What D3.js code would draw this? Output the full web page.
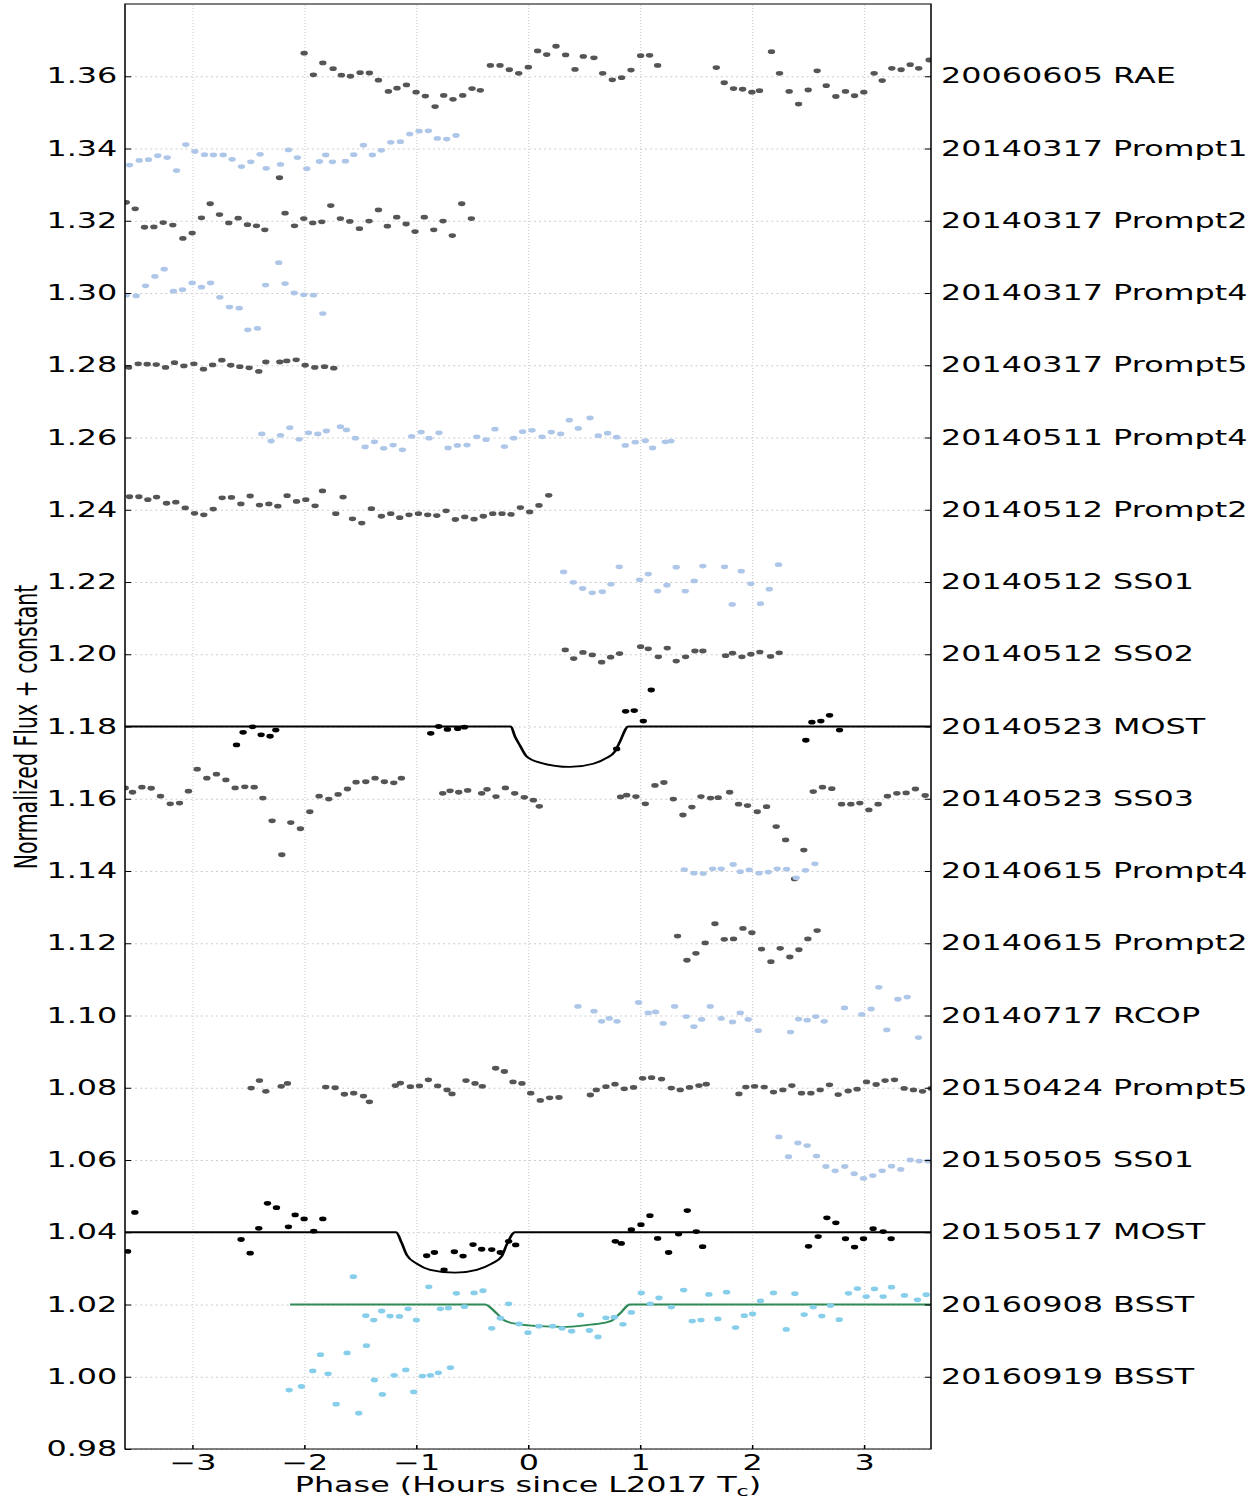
<!DOCTYPE html>
<html>
<head>
<meta charset="utf-8">
<script src="https://cdn.jsdelivr.net/npm/d3@7"></script>
<style>
  body { margin: 0; background: #fff; }
  text { font-family: "DejaVu Sans", sans-serif; }
</style>
</head>
<body>
<svg id="chart"></svg>
<script>
// the source figure was stretched sideways, so everything is drawn in a narrow frame and scaled
const STRETCH = 1.53;
const width = 1257, height = 1500;

// ---- data: [phase (h), normalized flux + constant] ----
const rae_0605 = [[-2.000,1.3664],[-1.917,1.3604],[-1.833,1.3637],[-1.741,1.3621],[-1.667,1.3603],[-1.586,1.3600],[-1.500,1.3610],[-1.417,1.3609],[-1.336,1.3589],[-1.247,1.3558],[-1.170,1.3567],[-1.086,1.3576],[-1.000,1.3556],[-0.917,1.3545],[-0.830,1.3516],[-0.753,1.3547],[-0.670,1.3536],[-0.583,1.3547],[-0.500,1.3566],[-0.426,1.3561],[-0.336,1.3630],[-0.250,1.3630],[-0.167,1.3618],[-0.083,1.3608],[0.003,1.3625],[0.086,1.3670],[0.167,1.3660],[0.250,1.3683],[0.336,1.3659],[0.420,1.3619],[0.494,1.3655],[0.589,1.3651],[0.667,1.3608],[0.753,1.3590],[0.836,1.3596],[0.920,1.3617],[1.006,1.3657],[1.086,1.3658],[1.158,1.3630],[1.682,1.3624],[1.753,1.3582],[1.836,1.3566],[1.917,1.3564],[2.000,1.3556],[2.068,1.3560],[2.175,1.3668],[2.247,1.3608],[2.333,1.3558],[2.417,1.3523],[2.503,1.3562],[2.583,1.3615],[2.664,1.3574],[2.750,1.3544],[2.836,1.3558],[2.917,1.3546],[3.000,1.3556],[3.092,1.3608],[3.164,1.3588],[3.250,1.3622],[3.333,1.3618],[3.414,1.3632],[3.490,1.3622],[3.583,1.3645]];
const prompt1_0317 = [[-3.560,1.3354],[-3.473,1.3367],[-3.390,1.3369],[-3.307,1.3380],[-3.223,1.3375],[-3.140,1.3339],[-3.057,1.3411],[-2.976,1.3392],[-2.890,1.3383],[-2.810,1.3382],[-2.723,1.3382],[-2.643,1.3370],[-2.560,1.3350],[-2.476,1.3363],[-2.393,1.3384],[-2.339,1.3345],[-2.211,1.3356],[-2.140,1.3396],[-2.060,1.3375],[-1.976,1.3344],[-1.863,1.3364],[-1.807,1.3382],[-1.747,1.3363],[-1.631,1.3365],[-1.557,1.3383],[-1.470,1.3409],[-1.390,1.3382],[-1.310,1.3395],[-1.226,1.3417],[-1.140,1.3419],[-1.057,1.3440],[-0.973,1.3448],[-0.890,1.3449],[-0.810,1.3428],[-0.726,1.3426],[-0.643,1.3436]];
const prompt2_0317 = [[-3.589,1.3251],[-3.509,1.3233],[-3.426,1.3182],[-3.342,1.3183],[-3.259,1.3195],[-3.173,1.3188],[-3.083,1.3151],[-3.000,1.3166],[-2.917,1.3208],[-2.839,1.3247],[-2.756,1.3217],[-2.673,1.3194],[-2.589,1.3207],[-2.506,1.3189],[-2.426,1.3186],[-2.351,1.3175],[-2.220,1.3319],[-2.170,1.3221],[-2.086,1.3186],[-2.003,1.3206],[-1.923,1.3194],[-1.842,1.3197],[-1.762,1.3242],[-1.676,1.3206],[-1.592,1.3198],[-1.506,1.3178],[-1.420,1.3199],[-1.336,1.3230],[-1.256,1.3185],[-1.173,1.3210],[-1.089,1.3191],[-1.009,1.3170],[-0.926,1.3210],[-0.842,1.3175],[-0.759,1.3199],[-0.676,1.3159],[-0.592,1.3247],[-0.506,1.3206]];
const prompt4_0317 = [[-3.589,1.2994],[-3.500,1.2992],[-3.417,1.3020],[-3.333,1.3046],[-3.250,1.3066],[-3.167,1.3005],[-3.086,1.3009],[-3.000,1.3028],[-2.917,1.3016],[-2.836,1.3028],[-2.753,1.2988],[-2.667,1.2961],[-2.580,1.2958],[-2.503,1.2898],[-2.417,1.2902],[-2.345,1.3022],[-2.226,1.3084],[-2.170,1.3026],[-2.089,1.3000],[-2.003,1.2995],[-1.917,1.2994],[-1.833,1.2943]];
const prompt5_0317 = [[-3.568,1.2794],[-3.482,1.2804],[-3.402,1.2803],[-3.321,1.2802],[-3.238,1.2794],[-3.158,1.2807],[-3.074,1.2798],[-2.985,1.2804],[-2.899,1.2789],[-2.818,1.2801],[-2.735,1.2814],[-2.655,1.2800],[-2.574,1.2796],[-2.491,1.2793],[-2.405,1.2783],[-2.342,1.2809],[-2.217,1.2809],[-2.155,1.2812],[-2.071,1.2815],[-1.991,1.2800],[-1.905,1.2794],[-1.818,1.2796],[-1.735,1.2792]];
const prompt4_0511 = [[-2.378,1.2610],[-2.295,1.2590],[-2.211,1.2606],[-2.128,1.2627],[-2.045,1.2595],[-1.961,1.2613],[-1.878,1.2610],[-1.801,1.2618],[-1.676,1.2630],[-1.622,1.2621],[-1.542,1.2598],[-1.455,1.2574],[-1.372,1.2588],[-1.289,1.2570],[-1.205,1.2579],[-1.122,1.2566],[-1.039,1.2603],[-0.955,1.2615],[-0.884,1.2598],[-0.795,1.2613],[-0.714,1.2571],[-0.631,1.2578],[-0.545,1.2579],[-0.458,1.2602],[-0.375,1.2594],[-0.295,1.2623],[-0.211,1.2575],[-0.128,1.2598],[-0.048,1.2616],[0.036,1.2620],[0.125,1.2602],[0.208,1.2615],[0.292,1.2610],[0.369,1.2648],[0.449,1.2625],[0.554,1.2654],[0.628,1.2605],[0.711,1.2612],[0.792,1.2601],[0.869,1.2578],[0.958,1.2587],[1.048,1.2591],[1.113,1.2571],[1.226,1.2588],[1.277,1.2590]];
const prompt2_0512 = [[-3.560,1.2436],[-3.476,1.2436],[-3.396,1.2428],[-3.318,1.2435],[-3.229,1.2418],[-3.146,1.2421],[-3.062,1.2405],[-2.979,1.2390],[-2.896,1.2386],[-2.812,1.2402],[-2.732,1.2433],[-2.649,1.2434],[-2.565,1.2416],[-2.482,1.2438],[-2.399,1.2413],[-2.315,1.2416],[-2.235,1.2410],[-2.152,1.2439],[-2.068,1.2423],[-1.985,1.2428],[-1.902,1.2411],[-1.836,1.2452],[-1.717,1.2389],[-1.652,1.2435],[-1.568,1.2375],[-1.485,1.2363],[-1.399,1.2403],[-1.310,1.2382],[-1.226,1.2389],[-1.146,1.2378],[-1.063,1.2386],[-0.979,1.2389],[-0.896,1.2386],[-0.815,1.2384],[-0.732,1.2397],[-0.649,1.2373],[-0.565,1.2380],[-0.482,1.2374],[-0.399,1.2382],[-0.315,1.2389],[-0.232,1.2389],[-0.152,1.2387],[-0.068,1.2406],[0.015,1.2394],[0.098,1.2412],[0.185,1.2440]];
const ss01_0512 = [[0.318,1.2228],[0.405,1.2199],[0.488,1.2182],[0.574,1.2170],[0.664,1.2173],[0.741,1.2194],[0.815,1.2242],[0.997,1.2206],[1.074,1.2222],[1.158,1.2175],[1.241,1.2191],[1.324,1.2241],[1.405,1.2175],[1.485,1.2203],[1.562,1.2244],[1.756,1.2242],[1.824,1.2138],[1.905,1.2230],[1.991,1.2195],[2.077,1.2140],[2.155,1.2180],[2.238,1.2248]];
const ss02_0512 = [[0.333,1.2012],[0.408,1.1988],[0.491,1.2005],[0.574,1.1998],[0.658,1.1978],[0.738,1.1992],[0.818,1.2002],[1.006,1.2021],[1.074,1.2015],[1.164,1.1993],[1.244,1.2017],[1.324,1.1981],[1.408,1.1993],[1.491,1.2009],[1.562,1.2009],[1.765,1.1996],[1.827,1.2003],[1.911,1.1993],[1.991,1.2000],[2.071,1.2006],[2.167,1.1994],[2.244,1.2004]];
const most_0523 = [[-2.604,1.1749],[-2.545,1.1784],[-2.461,1.1799],[-2.384,1.1777],[-2.304,1.1773],[-2.253,1.1790],[-0.869,1.1781],[-0.798,1.1800],[-0.720,1.1792],[-0.628,1.1794],[-0.568,1.1798],[0.792,1.1738],[0.872,1.1842],[0.949,1.1844],[1.030,1.1815],[1.101,1.1901],[2.482,1.1762],[2.536,1.1812],[2.616,1.1815],[2.694,1.1831],[2.783,1.1790]];
const ss03_0523 = [[-3.598,1.1630],[-3.533,1.1618],[-3.449,1.1632],[-3.366,1.1629],[-3.283,1.1607],[-3.196,1.1586],[-3.113,1.1588],[-3.033,1.1621],[-2.955,1.1682],[-2.869,1.1657],[-2.783,1.1668],[-2.699,1.1652],[-2.616,1.1630],[-2.530,1.1633],[-2.446,1.1632],[-2.369,1.1602],[-2.286,1.1539],[-2.199,1.1445],[-2.119,1.1534],[-2.033,1.1517],[-1.949,1.1564],[-1.866,1.1607],[-1.780,1.1599],[-1.696,1.1612],[-1.613,1.1627],[-1.536,1.1646],[-1.449,1.1647],[-1.366,1.1657],[-1.283,1.1647],[-1.199,1.1644],[-1.131,1.1657],[-0.762,1.1615],[-0.696,1.1622],[-0.619,1.1618],[-0.539,1.1623],[-0.414,1.1615],[-0.366,1.1626],[-0.286,1.1606],[-0.202,1.1630],[-0.119,1.1615],[-0.033,1.1604],[0.048,1.1596],[0.101,1.1579],[0.827,1.1605],[0.881,1.1610],[0.964,1.1606],[1.048,1.1586],[1.134,1.1637],[1.214,1.1645],[1.298,1.1599],[1.384,1.1555],[1.464,1.1577],[1.545,1.1606],[1.631,1.1602],[1.699,1.1603],[1.801,1.1618],[1.881,1.1585],[1.961,1.1581],[2.048,1.1564],[2.131,1.1578],[2.217,1.1523],[2.301,1.1486],[2.381,1.1378],[2.464,1.1458],[2.548,1.1620],[2.631,1.1632],[2.714,1.1628],[2.801,1.1585],[2.884,1.1585],[2.964,1.1588],[3.045,1.1569],[3.128,1.1585],[3.211,1.1607],[3.295,1.1615],[3.378,1.1616],[3.461,1.1627],[3.548,1.1609]];
const prompt4_0615 = [[1.396,1.1404],[1.482,1.1394],[1.565,1.1393],[1.649,1.1406],[1.726,1.1406],[1.833,1.1418],[1.896,1.1398],[1.976,1.1403],[2.063,1.1394],[2.146,1.1397],[2.226,1.1406],[2.310,1.1405],[2.396,1.1381],[2.479,1.1402],[2.563,1.1420]];
const prompt2_0615 = [[1.336,1.1220],[1.420,1.1153],[1.500,1.1172],[1.583,1.1201],[1.670,1.1254],[1.753,1.1211],[1.836,1.1212],[1.920,1.1241],[2.000,1.1229],[2.086,1.1184],[2.170,1.1149],[2.253,1.1186],[2.339,1.1162],[2.420,1.1182],[2.500,1.1212],[2.583,1.1235]];
const rcop_0717 = [[0.446,1.1025],[0.589,1.1012],[0.658,1.0984],[0.726,1.0992],[0.795,1.0984],[0.988,1.1036],[1.074,1.1007],[1.140,1.1010],[1.208,1.0978],[1.310,1.1025],[1.414,1.0997],[1.482,1.0969],[1.551,1.0989],[1.628,1.1025],[1.726,1.0992],[1.827,1.0982],[1.896,1.1007],[1.967,1.0989],[2.057,1.0958],[2.345,1.0954],[2.417,1.0990],[2.494,1.0987],[2.571,1.0997],[2.646,1.0984],[2.827,1.1021],[2.982,1.1003],[3.065,1.1018],[3.134,1.1078],[3.205,1.0960],[3.304,1.1045],[3.387,1.1051],[3.488,1.0939]];
const prompt5_0424 = [[-2.473,1.0799],[-2.399,1.0820],[-2.342,1.0790],[-2.205,1.0804],[-2.149,1.0812],[-1.807,1.0802],[-1.723,1.0800],[-1.640,1.0782],[-1.557,1.0785],[-1.470,1.0777],[-1.417,1.0761],[-1.185,1.0806],[-1.140,1.0813],[-1.051,1.0803],[-0.970,1.0805],[-0.890,1.0822],[-0.807,1.0805],[-0.723,1.0794],[-0.679,1.0783],[-0.554,1.0820],[-0.473,1.0812],[-0.408,1.0804],[-0.289,1.0854],[-0.211,1.0845],[-0.134,1.0816],[-0.054,1.0812],[0.024,1.0785],[0.110,1.0765],[0.193,1.0772],[0.277,1.0773],[0.557,1.0780],[0.610,1.0794],[0.696,1.0803],[0.777,1.0810],[0.860,1.0797],[0.943,1.0801],[1.024,1.0826],[1.104,1.0828],[1.193,1.0824],[1.280,1.0799],[1.360,1.0794],[1.443,1.0801],[1.527,1.0806],[1.592,1.0810],[1.884,1.0783],[1.946,1.0802],[2.024,1.0804],[2.110,1.0802],[2.193,1.0788],[2.277,1.0794],[2.357,1.0806],[2.443,1.0785],[2.527,1.0785],[2.610,1.0794],[2.693,1.0808],[2.771,1.0781],[2.860,1.0791],[2.940,1.0796],[3.024,1.0816],[3.110,1.0809],[3.190,1.0820],[3.274,1.0822],[3.360,1.0798],[3.443,1.0794],[3.524,1.0790],[3.601,1.0798]];
const ss01_0505 = [[2.241,1.0664],[2.327,1.0609],[2.411,1.0647],[2.494,1.0640],[2.577,1.0611],[2.661,1.0582],[2.744,1.0570],[2.830,1.0582],[2.914,1.0562],[2.997,1.0549],[3.080,1.0557],[3.164,1.0570],[3.247,1.0583],[3.330,1.0574],[3.414,1.0600],[3.494,1.0597],[3.571,1.0597]];
const most_0517 = [[-3.577,1.0347],[-3.512,1.0455],[-2.563,1.0380],[-2.482,1.0342],[-2.405,1.0411],[-2.327,1.0480],[-2.247,1.0468],[-2.140,1.0415],[-2.080,1.0448],[-2.000,1.0437],[-1.914,1.0403],[-1.833,1.0437],[-0.905,1.0335],[-0.836,1.0344],[-0.750,1.0296],[-0.658,1.0346],[-0.580,1.0334],[-0.491,1.0366],[-0.414,1.0353],[-0.324,1.0352],[-0.247,1.0344],[-0.173,1.0375],[-0.110,1.0365],[0.780,1.0375],[0.833,1.0369],[0.923,1.0407],[1.009,1.0421],[1.089,1.0446],[1.158,1.0383],[1.256,1.0344],[1.345,1.0395],[1.423,1.0460],[1.503,1.0402],[1.560,1.0360],[2.506,1.0361],[2.592,1.0388],[2.670,1.0440],[2.750,1.0426],[2.836,1.0382],[2.917,1.0359],[2.997,1.0382],[3.083,1.0410],[3.173,1.0402],[3.244,1.0382]];
const bsst_0908 = [[-1.560,1.0277],[-1.449,1.0169],[-1.378,1.0157],[-1.307,1.0182],[-1.232,1.0168],[-1.149,1.0167],[-1.071,1.0188],[-0.997,1.0157],[-0.887,1.0249],[-0.783,1.0188],[-0.711,1.0190],[-0.640,1.0231],[-0.568,1.0194],[-0.482,1.0232],[-0.402,1.0238],[-0.324,1.0134],[-0.247,1.0162],[-0.173,1.0202],[-0.080,1.0146],[0.000,1.0122],[0.098,1.0140],[0.220,1.0140],[0.304,1.0134],[0.390,1.0126],[0.470,1.0171],[0.548,1.0128],[0.625,1.0110],[0.696,1.0163],[0.771,1.0165],[0.848,1.0145],[0.923,1.0178],[1.012,1.0232],[1.092,1.0202],[1.170,1.0218],[1.280,1.0193],[1.390,1.0240],[1.467,1.0154],[1.545,1.0157],[1.616,1.0228],[1.696,1.0160],[1.774,1.0234],[1.854,1.0136],[1.932,1.0169],[2.006,1.0174],[2.077,1.0210],[2.193,1.0232],[2.307,1.0131],[2.384,1.0230],[2.467,1.0172],[2.548,1.0193],[2.625,1.0168],[2.702,1.0197],[2.780,1.0158],[2.863,1.0231],[2.943,1.0244],[3.021,1.0222],[3.095,1.0243],[3.173,1.0222],[3.247,1.0248],[3.363,1.0225],[3.479,1.0213],[3.557,1.0227]];
const bsst_0919 = [[-2.134,0.9963],[-2.024,0.9973],[-1.923,1.0016],[-1.854,1.0061],[-1.786,1.0008],[-1.714,0.9924],[-1.616,1.0066],[-1.512,0.9899],[-1.443,1.0086],[-1.372,0.9991],[-1.301,0.9951],[-1.196,1.0004],[-1.092,1.0019],[-1.021,0.9958],[-0.943,1.0002],[-0.872,1.0004],[-0.801,1.0011],[-0.693,1.0025]];

// model curves
const mostModel_0523 = [[-3.6,1.18],[-0.154,1.18],[-0.116,1.1772],[-0.071,1.1747],[-0.012,1.1717],[0.107,1.1700],[0.375,1.1688],[0.583,1.1697],[0.702,1.1713],[0.777,1.1731],[0.821,1.1758],[0.896,1.18],[3.6,1.18]];
const mostModel_0517 = [[-3.6,1.04],[-1.179,1.04],[-1.128,1.0370],[-1.083,1.0337],[-0.994,1.0313],[-0.875,1.0296],[-0.652,1.0288],[-0.458,1.0296],[-0.324,1.0313],[-0.235,1.0333],[-0.190,1.0366],[-0.116,1.04],[3.6,1.04]];
const bsstModel_0908 = [[-2.125,1.02],[-0.384,1.02],[-0.279,1.0175],[-0.205,1.0155],[-0.071,1.0145],[0.107,1.0140],[0.315,1.0138],[0.524,1.0143],[0.673,1.0149],[0.747,1.0155],[0.821,1.0175],[0.911,1.02],[3.6,1.02]];

const labelTicks = [1.36,1.34,1.32,1.30,1.28,1.26,1.24,1.22,1.20,1.18,1.16,1.14,1.12,1.10,1.08,1.06,1.04,1.02,1.00];
const labelNames = ["20060605 RAE","20140317 Prompt1","20140317 Prompt2","20140317 Prompt4","20140317 Prompt5",
  "20140511 Prompt4","20140512 Prompt2","20140512 SS01","20140512 SS02","20140523 MOST","20140523 SS03",
  "20140615 Prompt4","20140615 Prompt2","20140717 RCOP","20150424 Prompt5","20150505 SS01","20150517 MOST",
  "20160908 BSST","20160919 BSST"];
const xTicks = [-3,-2,-1,0,1,2,3];
const yTicks = d3.range(0, 20).map(i => +(0.98 + i * 0.02).toFixed(2));

// colours
const DARK = "#555555", LIGHT = "#aec7e8", SKY = "#87ceeb", BLACK = "#000000";

const seriesList = [
  { pts: rae_0605, color: DARK }, { pts: prompt1_0317, color: LIGHT }, { pts: prompt2_0317, color: DARK },
  { pts: prompt4_0317, color: LIGHT }, { pts: prompt5_0317, color: DARK }, { pts: prompt4_0511, color: LIGHT },
  { pts: prompt2_0512, color: DARK }, { pts: ss01_0512, color: LIGHT }, { pts: ss02_0512, color: DARK },
  { pts: most_0523, color: BLACK }, { pts: ss03_0523, color: DARK }, { pts: prompt4_0615, color: LIGHT },
  { pts: prompt2_0615, color: DARK }, { pts: rcop_0717, color: LIGHT }, { pts: prompt5_0424, color: DARK },
  { pts: ss01_0505, color: LIGHT }, { pts: most_0517, color: BLACK }, { pts: bsst_0908, color: SKY },
  { pts: bsst_0919, color: SKY }
];

// plot frame (in the un-stretched frame)
const plotLeft = 125 / STRETCH, plotRight = 931 / STRETCH, plotTop = 4, plotBottom = 1449;

let svg = d3.select("#chart").attr("width", width).attr("height", height);
let g = svg.append("g").attr("transform", "scale(" + STRETCH + ",1)");

let x = d3.scaleLinear().domain([-3.6, 3.6]).range([plotLeft, plotRight]);
let y = d3.scaleLinear().domain([0.98, 1.38]).range([plotBottom, plotTop]);

svg.append("defs").append("clipPath").attr("id", "plot-clip")
  .append("rect").attr("x", plotLeft).attr("y", plotTop)
  .attr("width", plotRight - plotLeft).attr("height", plotBottom - plotTop);

// grid
g.append("g").attr("transform", "translate(0," + plotBottom + ")")
  .call(d3.axisBottom(x).tickValues(xTicks).tickSize(-(plotBottom - plotTop)).tickFormat(""))
  .call(a => a.select(".domain").remove())
  .selectAll("line").attr("stroke", "#cccccc").attr("stroke-dasharray", "1,2").attr("stroke-width", 0.7);
g.append("g").attr("transform", "translate(" + plotLeft + ",0)")
  .call(d3.axisLeft(y).tickValues(yTicks).tickSize(-(plotRight - plotLeft)).tickFormat(""))
  .call(a => a.select(".domain").remove())
  .selectAll("line").attr("stroke", "#cccccc").attr("stroke-dasharray", "1.3,2").attr("stroke-width", 1);

let plot = g.append("g").attr("clip-path", "url(#plot-clip)");

// model lines
let line = d3.line().x(d => x(d[0])).y(d => y(d[1])).curve(d3.curveMonotoneX);
[[mostModel_0523, BLACK], [mostModel_0517, BLACK], [bsstModel_0908, "#2e8b57"]].forEach(m => {
  plot.append("path").datum(m[0]).attr("d", line)
    .attr("fill", "none").attr("stroke", m[1]).attr("stroke-width", 1.8);
});

// points
seriesList.forEach(s => {
  plot.append("g").selectAll("circle").data(s.pts).enter().append("circle")
    .attr("cx", d => x(d[0])).attr("cy", d => y(d[1])).attr("r", 2.4)
    .attr("fill", s.color);
});

// axes
const tickFont = 20.8;
let xAxis = g.append("g").attr("transform", "translate(0," + plotBottom + ")")
  .call(d3.axisBottom(x).tickValues(xTicks).tickSizeInner(-4).tickSizeOuter(0).tickPadding(6.5));
let yAxis = g.append("g").attr("transform", "translate(" + plotLeft + ",0)")
  .call(d3.axisLeft(y).tickValues(yTicks).tickFormat(d3.format(".2f")).tickSizeInner(-4).tickSizeOuter(0).tickPadding(5));
let rAxis = g.append("g").attr("transform", "translate(" + plotRight + ",0)")
  .call(d3.axisRight(y).tickValues(labelTicks).tickFormat((d, i) => labelNames[i]).tickSizeInner(-4).tickSizeOuter(0).tickPadding(6.6));

[xAxis, yAxis, rAxis].forEach(a => {
  a.select(".domain").remove();
  a.selectAll("text").attr("font-size", tickFont).attr("font-family", "DejaVu Sans").attr("fill", "#000");
  a.selectAll("line").attr("stroke", "#000");
});

// frame
g.append("rect").attr("x", plotLeft).attr("y", plotTop)
  .attr("width", plotRight - plotLeft).attr("height", plotBottom - plotTop)
  .attr("fill", "none").attr("stroke", "#000").attr("stroke-width", 1);

// axis titles
let xl = g.append("text")
  .attr("x", (plotLeft + plotRight) / 2).attr("y", 1492)
  .attr("text-anchor", "middle").attr("font-size", tickFont);
xl.append("tspan").text("Phase (Hours since L2017 T");
xl.append("tspan").attr("font-size", 14.5).attr("dy", 4).text("c");
xl.append("tspan").attr("dy", -4).text(")");

g.append("text")
  .attr("transform", "translate(24.5,727) rotate(-90)")
  .attr("text-anchor", "middle").attr("font-size", 20.5)
  .text("Normalized Flux + constant");
</script>
</body>
</html>
